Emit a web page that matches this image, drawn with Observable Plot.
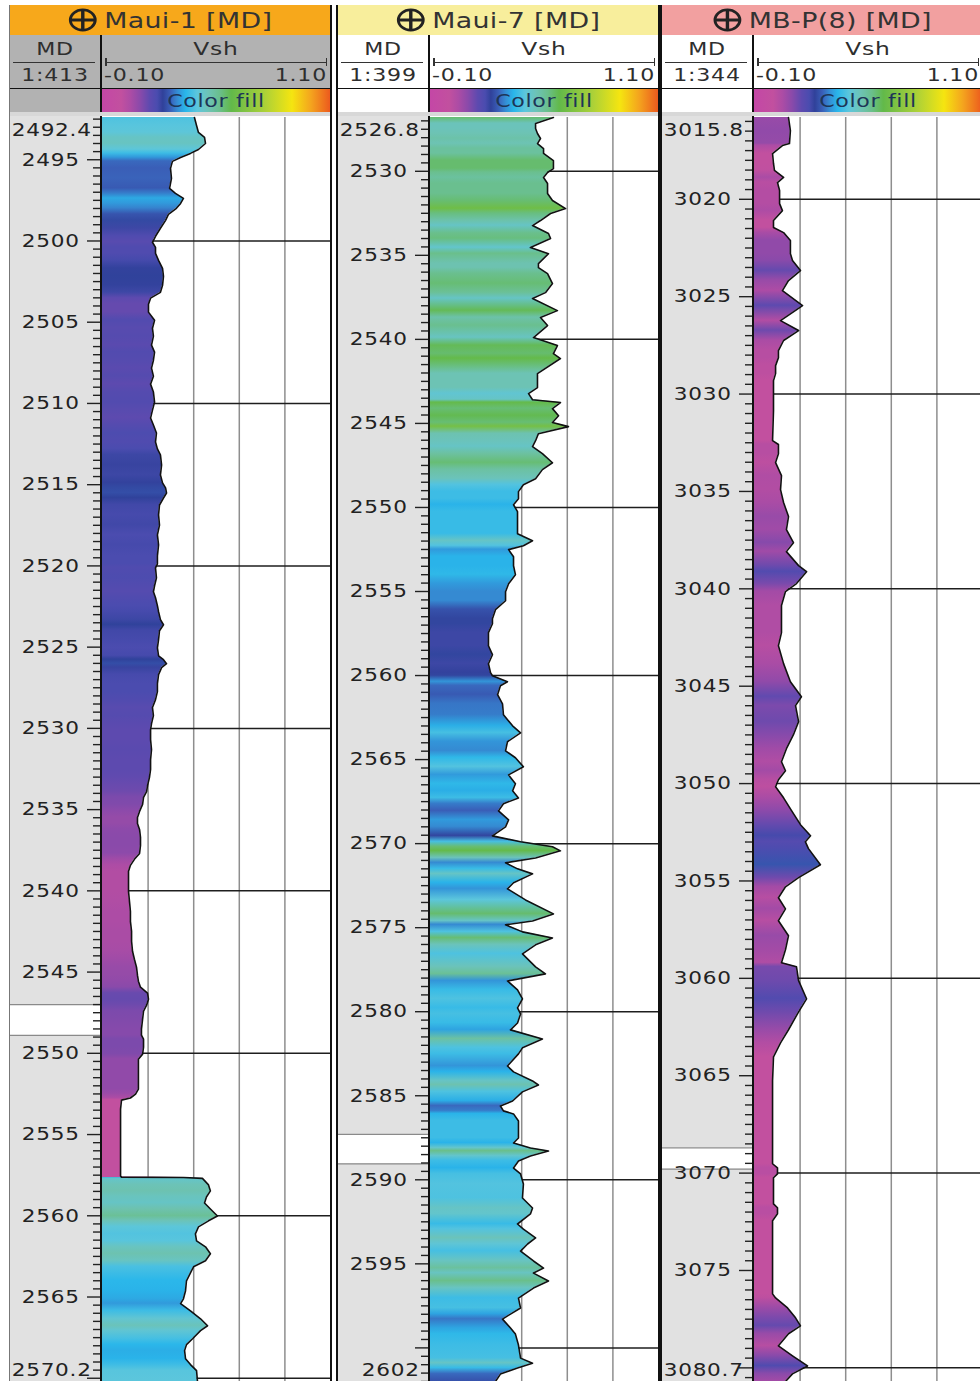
<!DOCTYPE html>
<html>
<head>
<meta charset="utf-8">
<script src="https://cdn.jsdelivr.net/npm/d3@7"></script>
<script src="https://cdn.jsdelivr.net/npm/@observablehq/plot@0.6"></script>
<style>
  html, body { margin: 0; padding: 0; }
  body { width: 980px; height: 1381px; overflow: hidden; background: #fff; position: relative;
         font-family: "DejaVu Sans", "Liberation Sans", sans-serif; color: #2b2b2b; }
  .track { position: absolute; top: 0; width: 320px; height: 1381px; }
  .abs { position: absolute; }
  .title { position: absolute; top: 5px; left: 0; width: 320px; height: 30px; display: flex;
           align-items: center; justify-content: center; font-size: 22px; color: #333; }
  .title .wide { display: inline-flex; align-items: center; transform: scaleX(1.22); letter-spacing: 0.3px; white-space: nowrap; }
  .title svg { margin-right: 5px; }
  .txt { position: absolute; font-size: 17px; letter-spacing: 0.6px; line-height: 20px; white-space: nowrap; color: #2e2e2e; }
  .c { transform: translate(-50%, -50%) scaleX(1.3); transform-origin: 50% 50%; }
  .l { transform: translate(0, -50%) scaleX(1.3); transform-origin: 0 50%; }
  .r { transform: translate(-100%, -50%) scaleX(1.3); transform-origin: 100% 50%; }
  .border { position: absolute; top: 5px; height: 1376px; }
</style>
</head>
<body>
<script>
// ---- Vsh display range, grid and colour ramp ---------------------------
const VSH_MIN = -0.10, VSH_MAX = 1.10;
const vshGrid = [0.14, 0.38, 0.62, 0.86];
const colorStops = [-0.10, 0.00, 0.05, 0.10, 0.15, 0.19, 0.22, 0.26, 0.30, 0.34, 0.40, 0.46, 0.52, 0.58, 0.75, 0.90, 1.00, 1.10];
const colorRamp  = ["#C447A6", "#C2509F", "#AC4CA5", "#8A4AAA", "#5E4AAF", "#4A4CAF", "#30419A", "#3A5FB8", "#3490D6",
                    "#29B6EA", "#5CC6DC", "#6DC3B6", "#6ABF8C", "#62B94A", "#A8D03A", "#F5E510", "#F4A41E", "#EC5A1E"];

// ---- Maui-1 ------------------------------------------------------------
const maui1Range = [2492.4, 2570.2];
const maui1Labels = [2495, 2500, 2505, 2510, 2515, 2520, 2525, 2530, 2535, 2540, 2545, 2550, 2555, 2560, 2565];
const maui1Marker = [2547.0, 2548.9];
const maui1Depth = [
  2492.40, 2492.89, 2493.32, 2493.63, 2494.00, 2494.37, 2494.61, 2494.86, 2495.10, 2495.53,
  2496.15, 2496.76, 2497.07, 2497.38, 2497.69, 2497.99, 2498.36, 2498.73, 2499.22, 2499.71,
  2500.08, 2500.39, 2500.76, 2501.19, 2501.68, 2502.17, 2502.73, 2503.16, 2503.52, 2503.89,
  2504.38, 2504.88, 2505.37, 2505.86, 2506.41, 2506.84, 2507.34, 2507.83, 2508.32, 2508.81,
  2509.30, 2509.92, 2510.41, 2510.90, 2511.33, 2511.82, 2512.37, 2512.80, 2513.17, 2513.79,
  2514.40, 2514.89, 2515.20, 2515.51, 2515.82, 2516.25, 2516.86, 2517.48, 2518.09, 2518.71,
  2519.38, 2519.87, 2520.12, 2520.73, 2521.22, 2521.59, 2521.96, 2522.45, 2522.82, 2523.31,
  2523.62, 2523.99, 2524.54, 2525.04, 2525.53, 2525.77, 2526.02, 2526.26, 2526.69, 2527.25,
  2527.74, 2528.23, 2528.72, 2529.21, 2529.71, 2530.07, 2530.69, 2531.30, 2531.92, 2532.53,
  2533.03, 2533.52, 2533.89, 2534.25, 2534.68, 2535.11, 2535.48, 2535.85, 2536.22, 2536.71,
  2537.20, 2537.70, 2538.06, 2538.43, 2538.80, 2539.42, 2540.03, 2540.65, 2541.26, 2541.88,
  2542.49, 2543.10, 2543.72, 2544.21, 2544.70, 2545.19, 2545.56, 2545.93, 2546.30, 2546.67,
  2547.04, 2547.41, 2547.90, 2548.51, 2548.88, 2549.13, 2549.62, 2550.05, 2550.36, 2550.97,
  2551.59, 2552.20, 2552.51, 2552.75, 2552.88, 2553.43, 2554.66, 2555.89, 2557.55, 2557.62,
  2557.64, 2557.70, 2558.10, 2558.47, 2558.84, 2559.21, 2559.58, 2560.01, 2560.31, 2560.68,
  2561.11, 2561.54, 2561.91, 2562.34, 2562.77, 2563.14, 2563.51, 2564.00, 2564.61, 2565.11,
  2565.41, 2565.85, 2566.34, 2566.77, 2567.07, 2567.57, 2567.93, 2568.30, 2568.80, 2569.16,
  2569.53, 2570.20
];
const maui1Vsh = [
  0.384, 0.395, 0.405, 0.437, 0.442, 0.405, 0.363, 0.311, 0.268, 0.258,
  0.263, 0.253, 0.284, 0.326, 0.311, 0.289, 0.247, 0.232, 0.205, 0.179,
  0.163, 0.179, 0.179, 0.195, 0.216, 0.221, 0.216, 0.205, 0.153, 0.142,
  0.142, 0.174, 0.163, 0.168, 0.158, 0.174, 0.168, 0.158, 0.168, 0.153,
  0.168, 0.174, 0.163, 0.153, 0.168, 0.184, 0.179, 0.189, 0.205, 0.211,
  0.205, 0.216, 0.232, 0.237, 0.221, 0.200, 0.195, 0.200, 0.189, 0.195,
  0.189, 0.189, 0.179, 0.184, 0.174, 0.168, 0.179, 0.189, 0.195, 0.205,
  0.221, 0.200, 0.195, 0.189, 0.195, 0.221, 0.237, 0.211, 0.195, 0.189,
  0.189, 0.179, 0.163, 0.168, 0.158, 0.153, 0.153, 0.158, 0.153, 0.153,
  0.147, 0.137, 0.132, 0.116, 0.111, 0.095, 0.084, 0.084, 0.095, 0.100,
  0.100, 0.095, 0.068, 0.047, 0.037, 0.037, 0.037, 0.042, 0.047, 0.047,
  0.053, 0.053, 0.058, 0.068, 0.079, 0.084, 0.089, 0.100, 0.137, 0.142,
  0.132, 0.116, 0.111, 0.105, 0.105, 0.116, 0.116, 0.111, 0.089, 0.089,
  0.089, 0.089, 0.074, 0.047, 0.000, -0.005, -0.005, -0.005, -0.005, 0.000,
  0.326, 0.426, 0.458, 0.468, 0.447, 0.437, 0.468, 0.505, 0.458, 0.405,
  0.389, 0.395, 0.442, 0.468, 0.442, 0.379, 0.363, 0.342, 0.337, 0.326,
  0.311, 0.363, 0.416, 0.453, 0.416, 0.374, 0.342, 0.332, 0.337, 0.363,
  0.395, 0.400
];

// ---- Maui-7 ------------------------------------------------------------
const maui7Range = [2526.8, 2602];
const maui7Labels = [2530, 2535, 2540, 2545, 2550, 2555, 2560, 2565, 2570, 2575, 2580, 2585, 2590, 2595];
const maui7Marker = [2587.3, 2589.05];
const maui7Depth = [
  2526.80, 2527.16, 2527.45, 2527.75, 2528.05, 2528.35, 2528.65, 2528.94, 2529.36, 2529.84,
  2530.07, 2530.37, 2530.73, 2531.32, 2531.74, 2532.22, 2532.51, 2532.93, 2533.23, 2533.70,
  2534.00, 2534.54, 2534.90, 2535.49, 2535.73, 2536.09, 2536.68, 2537.22, 2537.57, 2538.29,
  2538.70, 2539.18, 2539.89, 2540.37, 2540.85, 2541.14, 2542.04, 2542.87, 2543.23, 2543.59,
  2543.76, 2544.12, 2544.54, 2544.95, 2545.19, 2545.61, 2546.03, 2546.38, 2546.80, 2547.34,
  2547.75, 2548.29, 2548.65, 2549.06, 2549.48, 2549.84, 2550.25, 2550.79, 2551.56, 2551.98,
  2552.28, 2552.51, 2552.93, 2553.47, 2554.00, 2554.54, 2555.01, 2555.55, 2556.08, 2556.62,
  2556.92, 2557.45, 2558.23, 2558.76, 2559.30, 2559.83, 2560.01, 2560.37, 2560.61, 2561.14,
  2561.68, 2562.33, 2562.99, 2563.41, 2563.94, 2564.48, 2564.89, 2565.43, 2565.91, 2566.44,
  2566.86, 2567.28, 2567.63, 2568.05, 2568.59, 2569.00, 2569.54, 2569.89, 2570.19, 2570.43,
  2570.85, 2571.14, 2571.50, 2571.80, 2572.33, 2572.69, 2573.35, 2574.18, 2574.60, 2574.83,
  2575.25, 2575.61, 2576.02, 2576.56, 2577.33, 2577.75, 2578.17, 2578.70, 2579.24, 2579.77,
  2580.13, 2580.67, 2581.08, 2581.62, 2582.15, 2582.51, 2583.23, 2583.58, 2584.12, 2584.36,
  2584.77, 2585.31, 2585.61, 2585.90, 2586.08, 2586.50, 2587.10, 2587.51, 2587.81, 2588.11,
  2588.29, 2588.58, 2588.88, 2589.30, 2589.65, 2590.25, 2591.08, 2591.68, 2592.03, 2592.63,
  2592.93, 2593.46, 2593.82, 2594.24, 2594.83, 2595.25, 2595.55, 2596.02, 2596.44, 2597.04,
  2597.63, 2597.99, 2598.29, 2598.82, 2599.18, 2599.83, 2600.61, 2600.91, 2601.20, 2601.56,
  2602.00
];
const maui7Vsh = [
  0.547, 0.453, 0.453, 0.463, 0.479, 0.463, 0.495, 0.495, 0.547, 0.547,
  0.516, 0.495, 0.516, 0.516, 0.542, 0.611, 0.532, 0.479, 0.437, 0.521,
  0.532, 0.426, 0.521, 0.468, 0.468, 0.516, 0.542, 0.505, 0.437, 0.568,
  0.479, 0.516, 0.442, 0.568, 0.547, 0.584, 0.463, 0.463, 0.416, 0.437,
  0.584, 0.542, 0.574, 0.542, 0.626, 0.468, 0.453, 0.437, 0.489, 0.542,
  0.489, 0.453, 0.389, 0.363, 0.363, 0.337, 0.358, 0.358, 0.358, 0.437,
  0.389, 0.311, 0.337, 0.337, 0.347, 0.311, 0.295, 0.295, 0.242, 0.226,
  0.226, 0.205, 0.205, 0.226, 0.205, 0.216, 0.226, 0.305, 0.268, 0.253,
  0.279, 0.284, 0.332, 0.374, 0.305, 0.295, 0.347, 0.389, 0.311, 0.347,
  0.332, 0.363, 0.284, 0.258, 0.311, 0.295, 0.226, 0.374, 0.542, 0.584,
  0.453, 0.295, 0.358, 0.437, 0.337, 0.305, 0.400, 0.547, 0.437, 0.295,
  0.384, 0.542, 0.453, 0.384, 0.453, 0.505, 0.305, 0.358, 0.384, 0.358,
  0.374, 0.358, 0.321, 0.489, 0.384, 0.363, 0.305, 0.337, 0.437, 0.468,
  0.384, 0.332, 0.268, 0.284, 0.337, 0.363, 0.363, 0.363, 0.337, 0.426,
  0.521, 0.426, 0.363, 0.337, 0.374, 0.389, 0.384, 0.437, 0.426, 0.358,
  0.389, 0.453, 0.411, 0.374, 0.442, 0.495, 0.442, 0.521, 0.442, 0.363,
  0.374, 0.321, 0.279, 0.321, 0.347, 0.363, 0.374, 0.437, 0.358, 0.268,
  0.242
];

// ---- MB-P(8) -----------------------------------------------------------
const mbp8Range = [3015.8, 3080.7];
const mbp8Labels = [3020, 3025, 3030, 3035, 3040, 3045, 3050, 3055, 3060, 3065, 3070, 3075];
const mbp8Marker = [3068.7, 3069.8];
const mbp8Depth = [
  3015.80, 3016.47, 3017.14, 3017.24, 3017.65, 3018.16, 3018.52, 3018.88, 3019.14, 3019.55,
  3020.22, 3020.58, 3021.09, 3021.45, 3021.71, 3022.12, 3022.79, 3023.14, 3023.66, 3024.17,
  3024.69, 3025.46, 3026.23, 3026.74, 3027.25, 3027.77, 3028.13, 3028.54, 3028.95, 3029.31,
  3030.85, 3032.39, 3032.59, 3033.06, 3033.52, 3034.19, 3034.91, 3035.57, 3036.29, 3036.96,
  3037.63, 3038.09, 3038.81, 3039.12, 3039.73, 3040.14, 3040.86, 3042.25, 3042.92, 3043.84,
  3044.77, 3045.54, 3046.00, 3046.82, 3047.49, 3048.21, 3048.88, 3049.34, 3049.80, 3050.16,
  3050.73, 3051.39, 3052.11, 3052.68, 3052.99, 3053.34, 3054.17, 3054.83, 3055.30, 3055.86,
  3056.43, 3057.04, 3057.81, 3058.53, 3059.20, 3059.41, 3060.12, 3061.05, 3061.72, 3062.64,
  3063.31, 3064.03, 3065.26, 3069.52, 3069.73, 3070.04, 3070.24, 3071.58, 3071.78, 3072.09,
  3072.45, 3076.20, 3076.41, 3076.92, 3077.43, 3077.84, 3078.25, 3078.87, 3079.38, 3079.90,
  3080.31, 3080.70
];
const mbp8Vsh = [
  0.079, 0.089, 0.084, 0.047, -0.005, 0.000, 0.005, 0.053, 0.021, 0.032,
  0.032, 0.047, 0.000, 0.000, 0.053, 0.089, 0.089, 0.100, 0.142, 0.079,
  0.047, 0.153, 0.037, 0.132, 0.053, 0.026, 0.026, 0.011, 0.011, 0.000,
  0.000, -0.005, 0.026, 0.026, 0.011, 0.042, 0.037, 0.053, 0.079, 0.068,
  0.105, 0.068, 0.132, 0.174, 0.121, 0.063, 0.042, 0.042, 0.026, 0.053,
  0.089, 0.147, 0.116, 0.132, 0.105, 0.068, 0.042, 0.063, 0.026, 0.011,
  0.053, 0.095, 0.142, 0.195, 0.168, 0.184, 0.247, 0.132, 0.063, 0.026,
  0.063, 0.026, 0.079, 0.063, 0.042, 0.121, 0.132, 0.174, 0.132, 0.079,
  0.037, 0.000, -0.005, -0.005, 0.021, 0.021, 0.000, 0.000, 0.021, 0.021,
  -0.005, -0.005, 0.011, 0.074, 0.116, 0.142, 0.079, 0.026, 0.100, 0.179,
  0.100, 0.063
];

// ---- Track set-up ------------------------------------------------------
const wells = [
  {id: "maui1", name: "Maui-1 [MD]", ratio: "1:413", left: 10, titleBg: "#F7A81B", headBg: "#B2B2B2",
   range: maui1Range, depth: maui1Depth, vsh: maui1Vsh, labels: maui1Labels, marker: maui1Marker},
  {id: "maui7", name: "Maui-7 [MD]", ratio: "1:399", left: 338, titleBg: "#F8EE9C", headBg: "#FFFFFF",
   range: maui7Range, depth: maui7Depth, vsh: maui7Vsh, labels: maui7Labels, marker: maui7Marker},
  {id: "mbp8", name: "MB-P(8) [MD]", ratio: "1:344", left: 662, titleBg: "#F2A0A0", headBg: "#FFFFFF",
   range: mbp8Range, depth: mbp8Depth, vsh: mbp8Vsh, labels: mbp8Labels, marker: mbp8Marker}
];

const DEPTH_W = 90, AXIS_W = 2, VSH_W = 228;
const PLOT_TOP = 116, PLOT_H = 1265;
const LABEL_DX = -21, END_DX = -9, LABEL_STRETCH = 1.2;
const fillColor = d3.scaleLinear().domain(colorStops).range(colorRamp).interpolate(d3.interpolateRgb).clamp(true);
const rampCss = "linear-gradient(to right, " + colorStops.map((v, i) =>
  `${colorRamp[i]} ${((v - VSH_MIN) / (VSH_MAX - VSH_MIN) * 100).toFixed(2)}%`).join(", ") + ")";

function box(parent, cls, style, html) {
  const e = document.createElement("div");
  if (cls) e.className = cls;
  Object.assign(e.style, style || {});
  if (html !== undefined) e.innerHTML = html;
  parent.appendChild(e);
  return e;
}

// widen the depth labels horizontally about their right-hand anchor
function stretchText(svg, anchors) {
  const groups = Array.from(svg.querySelectorAll(":scope > g[aria-label='text']"));
  groups.forEach((g, i) => {
    const ax = DEPTH_W + anchors[i];
    const wrap = document.createElementNS("http://www.w3.org/2000/svg", "g");
    wrap.setAttribute("transform", `translate(${ax},0) scale(${LABEL_STRETCH},1) translate(${-ax},0)`);
    g.parentNode.insertBefore(wrap, g);
    wrap.appendChild(g);
  });
}

function drawTrack(w) {
  const track = box(document.body, "track", {left: w.left + "px"});

  // title bar with the well symbol
  box(track, "title", {background: w.titleBg},
    `<span class="wide"><svg width="25" height="24" viewBox="0 0 25 24"><circle cx="12.5" cy="12" r="10.2" fill="none" stroke="#222" stroke-width="2.4"/>` +
    `<path d="M2 12H23M12.5 1.5V22.5" stroke="#222" stroke-width="2.8"/></svg><span>${w.name}</span></span>`);

  // header block: MD / scale, Vsh / range, colour fill legend
  box(track, "abs", {left: "0px", top: "35px", width: "320px", height: "77px", background: w.headBg});
  box(track, "abs", {left: DEPTH_W + "px", top: "35px", width: AXIS_W + "px", height: "77px", background: "#111"});
  box(track, "txt c", {left: "45px", top: "49px"}, "MD");
  box(track, "abs", {left: "3px", top: "61.5px", width: "82px", height: "1.5px", background: "#333"});
  box(track, "txt c", {left: "206px", top: "49px", fontSize: "18px"}, "Vsh");
  box(track, "abs", {left: "95px", top: "61.5px", width: "222px", height: "1.5px", background: "#333"});
  box(track, "abs", {left: "95px", top: "58px", width: "1.5px", height: "8px", background: "#333"});
  box(track, "abs", {left: "315.5px", top: "58px", width: "1.5px", height: "8px", background: "#333"});
  box(track, "txt c", {left: "45px", top: "75px"}, w.ratio);
  box(track, "txt l", {left: "94px", top: "75px"}, VSH_MIN.toFixed(2));
  box(track, "txt r", {left: "317px", top: "75px"}, VSH_MAX.toFixed(2));
  box(track, "abs", {left: "0px", top: "87.5px", width: "320px", height: "1.5px", background: "#111"});
  box(track, "abs", {left: (DEPTH_W + AXIS_W) + "px", top: "89px", width: VSH_W + "px", height: "23px", background: rampCss});
  box(track, "txt c", {left: "206px", top: "101px", color: "#1d3557", letterSpacing: "0.5px"}, "Color fill");
  box(track, "abs", {left: "0px", top: "112px", width: "320px", height: "4px", background: "#d8d8d8"});

  const rows = w.depth.map((d, i) => ({depth: d, vsh: w.vsh[i]}));
  const [top, bottom] = w.range;
  const major = d3.range(Math.ceil(top / 5) * 5, bottom + 1e-9, 5);
  const minor = d3.range(Math.ceil(top * 2) / 2, bottom + 1e-9, 0.5).filter(d => d % 5 !== 0);
  const grid10 = major.filter(d => d % 10 === 0);

  // depth column
  const depthSvg = Plot.plot({
    width: DEPTH_W, height: PLOT_H, marginTop: 1, marginRight: 0, marginBottom: 0, marginLeft: 0,
    x: {axis: null, domain: [0, 1]},
    y: {axis: null, domain: [top, bottom], reverse: true},
    style: {background: "#e1e1e1", fontFamily: "DejaVu Sans", fontSize: "18px", letterSpacing: "0.6px", overflow: "visible"},
    marks: [
      Plot.rect([w.marker], {y1: d => d[0], y2: d => d[1], fill: "white"}),
      Plot.ruleY(w.marker, {stroke: "#8a8a8a", strokeWidth: 1.2}),
      Plot.ruleY(minor, {insetLeft: 83, stroke: "#222", strokeWidth: 1.4}),
      Plot.ruleY(major, {insetLeft: 77, stroke: "#222", strokeWidth: 1.4}),
      Plot.text(w.labels, {y: d => d, text: d => String(d), frameAnchor: "right", textAnchor: "end", dx: LABEL_DX, fill: "#222"}),
      Plot.text([top], {y: d => d, text: d => String(d), frameAnchor: "right", textAnchor: "end", dx: END_DX, dy: 13, fill: "#222"}),
      Plot.text([bottom], {y: d => d, text: d => String(d), frameAnchor: "right", textAnchor: "end", dx: END_DX, dy: -11, fill: "#222"})
    ]
  });
  stretchText(depthSvg, [LABEL_DX, END_DX, END_DX]);
  const dWrap = box(track, "abs", {left: "0px", top: PLOT_TOP + "px", width: DEPTH_W + "px", height: PLOT_H + "px"});
  dWrap.appendChild(depthSvg);
  box(track, "abs", {left: DEPTH_W + "px", top: PLOT_TOP + "px", width: AXIS_W + "px", height: PLOT_H + "px", background: "#111"});

  // Vsh column: gridlines, colour-filled curve, curve outline
  const gid = "fill-" + w.id;
  const vshSvg = Plot.plot({
    width: VSH_W, height: PLOT_H, marginTop: 1, marginRight: 0, marginBottom: 0, marginLeft: 0,
    x: {axis: null, domain: [VSH_MIN, VSH_MAX]},
    y: {axis: null, domain: [top, bottom], reverse: true},
    style: {background: "white", overflow: "hidden"},
    marks: [
      Plot.ruleX(vshGrid, {stroke: "#8e8e8e", strokeWidth: 1.5}),
      Plot.ruleY(grid10, {stroke: "#1e1e1e", strokeWidth: 1.5}),
      Plot.areaX(rows, {y: "depth", x1: VSH_MIN, x2: "vsh", fill: `url(#${gid})`}),
      Plot.lineX(rows, {x: "vsh", y: "depth", stroke: "#111", strokeWidth: 1.6})
    ]
  });
  const d0 = rows[0].depth, d1 = rows[rows.length - 1].depth;
  const grad = d3.select(vshSvg).insert("defs", ":first-child")
    .append("linearGradient").attr("id", gid)
    .attr("x1", 0).attr("y1", 0).attr("x2", 0).attr("y2", 1);
  grad.selectAll("stop").data(rows).join("stop")
    .attr("offset", r => (r.depth - d0) / (d1 - d0))
    .attr("stop-color", r => fillColor(r.vsh));
  const vWrap = box(track, "abs", {left: (DEPTH_W + AXIS_W) + "px", top: PLOT_TOP + "px", width: VSH_W + "px", height: PLOT_H + "px"});
  vWrap.appendChild(vshSvg);
}

wells.forEach(drawTrack);

// track separators
[[9, 1, "#777"], [330, 2, "#111"], [336, 2, "#111"], [658, 4, "#111"]].forEach(([x, wd, c]) =>
  box(document.body, "border", {left: x + "px", width: wd + "px", background: c}));
</script>
</body>
</html>
